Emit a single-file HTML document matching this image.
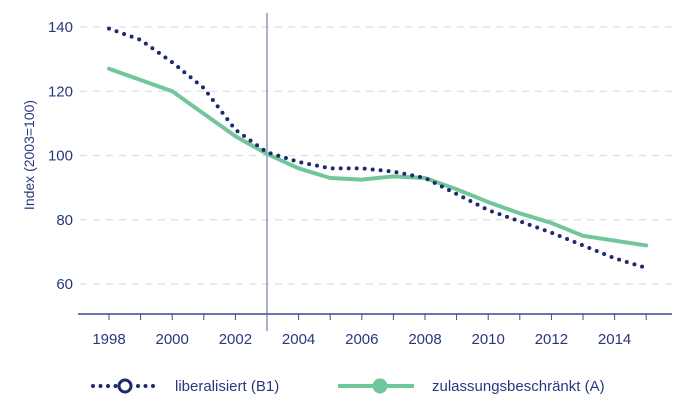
<!DOCTYPE html>
<html><head><meta charset="utf-8"><style>
body{margin:0;background:#fff;}
svg{display:block;font-family:"Liberation Sans",sans-serif;}
</style></head><body>
<svg id="chart" width="680" height="413" viewBox="0 0 680 413">
<g id="grid"></g><g id="axes"></g><g id="series"></g>
<g>
 <g>
  <line x1="93" y1="386" x2="160" y2="386" stroke="#1f2a6e" stroke-width="4" stroke-linecap="round" stroke-dasharray="0 7.5"/>
  <circle cx="125" cy="386" r="6" fill="#fff" stroke="#1f2a6e" stroke-width="3"/>
  <text x="175" y="391" font-size="15" fill="#2b3680">liberalisiert (B1)</text>
 </g>
 <g>
  <line x1="338" y1="386" x2="414" y2="386" stroke="#72c69c" stroke-width="4"/>
  <circle cx="380" cy="386" r="7.5" fill="#72c69c"/>
  <text x="432" y="391" font-size="15" fill="#2b3680">zulassungsbeschränkt (A)</text>
 </g>
</g>
</svg>
<script>
const years=[1998,1999,2000,2001,2002,2003,2004,2005,2006,2007,2008,2009,2010,2011,2012,2013,2014,2015];
const liberalisiert=[139.5,136,129,121,108,101,98,96,96,95,93,88,83,79.5,76,72,68,65];
const zulassung=[127,123.5,120,113,106,100.5,96,93,92.5,93.5,93,89.5,85.5,82,79,75,73.5,72];
const yTicks=[60,80,100,120,140];
const xTickLabels=[1998,2000,2002,2004,2006,2008,2010,2012,2014];
const NS="http://www.w3.org/2000/svg";
const x=y=>109+(y-1998)*31.6;
const yS=v=>284-(v-60)*(257/80);
function mk(t,a,p){const e=document.createElementNS(NS,t);for(const k in a)e.setAttribute(k,a[k]);p.appendChild(e);return e;}
const grid=document.getElementById('grid'),axes=document.getElementById('axes'),ser=document.getElementById('series');
yTicks.forEach(v=>{
 const l=mk('line',{x1:80,x2:672,y1:yS(v),y2:yS(v),stroke:'#dcdde8','stroke-width':1.2,'stroke-dasharray':'7 6'},grid);
 
 
 const t=mk('text',{x:73,y:yS(v)+5,'text-anchor':'end','font-size':15,fill:'#2b3680'},axes);
 t.textContent=v;
 
 
});
const al=mk('line',{x1:78,x2:672,y1:314,y2:314,stroke:'#3d4a8c','stroke-width':1.5},axes);


years.forEach(yr=>{
 const tk=mk('line',{x1:x(yr),x2:x(yr),y1:314,y2:320,stroke:'#3d4a8c','stroke-width':1},axes);
 
 
});
xTickLabels.forEach(yr=>{
 const t=mk('text',{x:x(yr),y:344,'text-anchor':'middle','font-size':15,fill:'#2b3680'},axes);
 t.textContent=yr;
 
 
});
const vl=mk('line',{x1:x(2003),x2:x(2003),y1:13,y2:331,stroke:'#5a6699','stroke-width':1},axes);


const yt=mk('text',{x:0,y:0,transform:'translate(34,155) rotate(-90)','text-anchor':'middle','font-size':14,fill:'#2b3680'},axes);
yt.textContent='Index (2003=100)';


const pts=a=>a.map((v,i)=>x(years[i])+','+yS(v)).join(' ');
const g=mk('polyline',{points:pts(zulassung),fill:'none',stroke:'#72c69c','stroke-width':4,'stroke-linejoin':'round','stroke-linecap':'round'},ser);


const d=mk('polyline',{points:pts(liberalisiert),fill:'none',stroke:'#1f2a6e','stroke-width':4,'stroke-linecap':'round','stroke-dasharray':'0 8'},ser);


</script>
</body></html>
